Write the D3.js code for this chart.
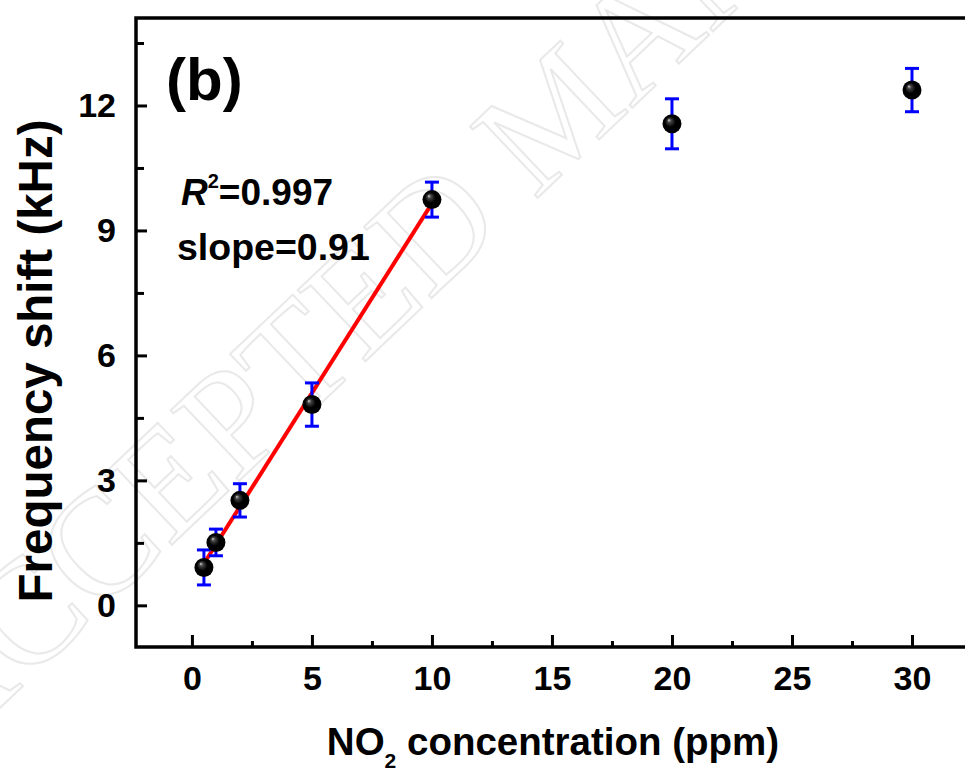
<!DOCTYPE html>
<html>
<head>
<meta charset="utf-8">
<script src="https://cdn.jsdelivr.net/npm/d3@7"></script>
<style>
  html, body { margin: 0; padding: 0; background: #fff; overflow: hidden; }
  svg { display: block; font-family: "Liberation Sans", Arial, sans-serif; }
</style>
</head>
<body>
<svg id="chart" width="965" height="771"></svg>
<script>
// ---- data ----
const concentrations = [0.5, 1, 2, 5, 10, 20, 30];          // ppm
const freqShift      = [0.91, 1.51, 2.52, 4.82, 9.74, 11.56, 12.37]; // kHz
const errors         = [0.42, 0.32, 0.40, 0.52, 0.42, 0.60, 0.52];
const fitSlope = 0.91;
const fitIntercept = 0.55;
const fitRange = [0.5, 10];
const xTicks = [0, 5, 10, 15, 20, 25, 30];
const xMinorTicks = [2.5, 7.5, 12.5, 17.5, 22.5, 27.5, 32.5];
const yTicks = [0, 3, 6, 9, 12];
const yMinorTicks = [1.5, 4.5, 7.5, 10.5, 13.5];
const annotations = ["(b)", "=0.997", "slope=0.91"];

const svg = d3.select("#chart");
const W = 965, H = 771;
svg.append("rect").attr("width", W).attr("height", H).attr("fill", "#fff");

// watermark
svg.append("text")
  .attr("transform", "translate(-55,760) rotate(-43.5)")
  .attr("font-family", "'Liberation Serif', 'DejaVu Serif', serif")
  .attr("font-size", 150)
  .attr("fill", "none")
  .attr("stroke", "#e9e9e9")
  .attr("stroke-width", 2)
  .text("ACCEPTED MANUSCRIPT");

const x = d3.scaleLinear().domain([-2.33, 33]).range([136, 984]);
const y = d3.scaleLinear().domain([-1, 14.1]).range([647, 18]);

const defs = svg.append("defs");
const grad = defs.append("radialGradient").attr("id", "ball")
  .attr("cx", "50%").attr("cy", "50%").attr("r", "55%")
  .attr("fx", "33%").attr("fy", "30%");
grad.append("stop").attr("offset", "0%").attr("stop-color", "#d0d0d0");
grad.append("stop").attr("offset", "18%").attr("stop-color", "#444");
grad.append("stop").attr("offset", "50%").attr("stop-color", "#000");
grad.append("stop").attr("offset", "100%").attr("stop-color", "#000");

// axes
const fontTick = 34;
const xAxis = svg.append("g").attr("transform", `translate(0,${y(-1)})`)
  .call(d3.axisBottom(x).tickValues(xTicks).tickSizeInner(-12).tickSizeOuter(0).tickPadding(19));
const xAxisMinor = svg.append("g").attr("transform", `translate(0,${y(-1)})`)
  .call(d3.axisBottom(x).tickValues(xMinorTicks).tickSizeInner(-6).tickSizeOuter(0).tickFormat(""));
const yAxis = svg.append("g").attr("transform", `translate(${x(-2.33)},0)`)
  .call(d3.axisLeft(y).tickValues(yTicks).tickSizeInner(-11).tickSizeOuter(0).tickPadding(20));
const yAxisMinor = svg.append("g").attr("transform", `translate(${x(-2.33)},0)`)
  .call(d3.axisLeft(y).tickValues(yMinorTicks).tickSizeInner(-8).tickSizeOuter(0).tickFormat(""));

[xAxis, xAxisMinor, yAxis, yAxisMinor].forEach(g => {
  g.select(".domain").remove();
  g.selectAll(".tick line").attr("stroke", "#000").attr("stroke-width", 3);
  g.selectAll(".tick text").attr("font-size", fontTick).attr("font-weight", "bold")
    .attr("font-family", "'Liberation Sans', Arial, sans-serif").attr("fill", "#000");
});

// frame
svg.append("rect")
  .attr("x", x(-2.33)).attr("y", y(14.1))
  .attr("width", x(33) - x(-2.33)).attr("height", y(-1) - y(14.1))
  .attr("fill", "none").attr("stroke", "#000").attr("stroke-width", 3.5);

// axis titles
svg.append("text")
  .attr("transform", `translate(52,${361}) rotate(-90)`)
  .attr("text-anchor", "middle")
  .attr("font-size", 47.5).attr("font-weight", "bold")
  .text("Frequency shift (kHz)");

const xt = svg.append("text")
  .attr("x", 553).attr("y", 755)
  .attr("text-anchor", "middle")
  .attr("font-size", 38.5).attr("font-weight", "bold");
xt.append("tspan").text("NO");
xt.append("tspan").attr("font-size", 21).attr("dy", 13).text("2");
xt.append("tspan").attr("dy", -13).text(" concentration (ppm)");

// fit line
const fitLine = d3.line().x(d => x(d)).y(d => y(fitSlope * d + fitIntercept));
svg.append("path").datum(fitRange)
  .attr("d", fitLine).attr("stroke", "#ff0000").attr("stroke-width", 4).attr("fill", "none");

// error bars
const pts = concentrations.map((c, i) => ({ c, v: freqShift[i], e: errors[i] }));
const eb = svg.append("g").attr("stroke", "#0000ff").attr("stroke-width", 3).attr("fill", "none");
pts.forEach(p => {
  eb.append("line").attr("x1", x(p.c)).attr("x2", x(p.c)).attr("y1", y(p.v - p.e)).attr("y2", y(p.v + p.e));
  eb.append("line").attr("x1", x(p.c) - 7).attr("x2", x(p.c) + 7).attr("y1", y(p.v - p.e)).attr("y2", y(p.v - p.e));
  eb.append("line").attr("x1", x(p.c) - 7).attr("x2", x(p.c) + 7).attr("y1", y(p.v + p.e)).attr("y2", y(p.v + p.e));
});

// markers
svg.append("g").selectAll("circle").data(pts).join("circle")
  .attr("cx", d => x(d.c)).attr("cy", d => y(d.v)).attr("r", 9.5)
  .attr("fill", "url(#ball)");

// annotations
svg.append("text").attr("x", 166).attr("y", 100)
  .attr("font-size", 60).attr("font-weight", "bold").text(annotations[0]);

const r2 = svg.append("text").attr("x", 181).attr("y", 205)
  .attr("font-size", 37).attr("font-weight", "bold");
r2.append("tspan").attr("font-style", "italic").text("R");
r2.append("tspan").attr("font-size", 20).attr("dy", -17).attr("dx", 0).text("2");
r2.append("tspan").attr("dy", 17).attr("dx", 0).text(annotations[1]);

svg.append("text").attr("x", 177).attr("y", 260)
  .attr("font-size", 37.5).attr("font-weight", "bold").text(annotations[2]);
</script>
</body>
</html>
